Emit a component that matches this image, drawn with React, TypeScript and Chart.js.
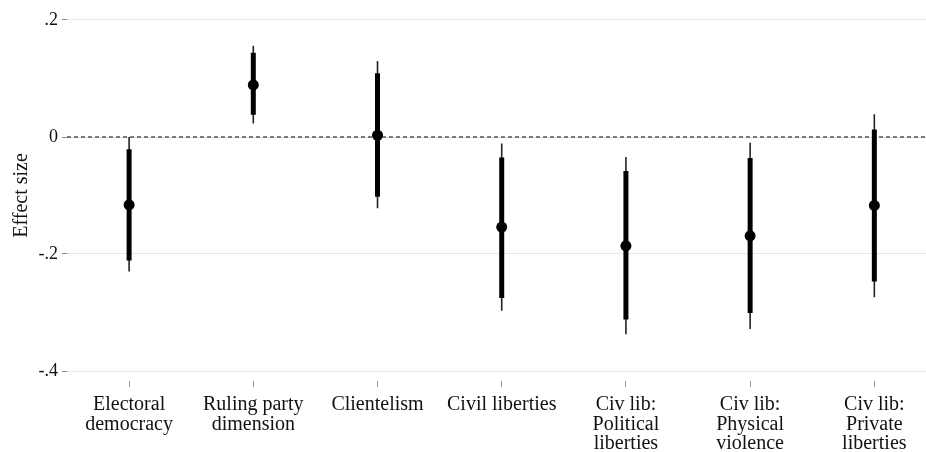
import React, { useEffect, useRef } from "react";
import { Chart, registerables } from "chart.js";

Chart.register(...registerables);

const categories: string[][] = [
  ["Electoral", "democracy"],
  ["Ruling party", "dimension"],
  ["Clientelism"],
  ["Civil liberties"],
  ["Civ lib:", "Political", "liberties"],
  ["Civ lib:", "Physical", "violence"],
  ["Civ lib:", "Private", "liberties"],
];
const pointEst = [-0.116, 0.089, 0.003, -0.154, -0.186, -0.169, -0.117];
const ci90Lo = [-0.211, 0.038, -0.102, -0.275, -0.312, -0.301, -0.247];
const ci90Hi = [-0.021, 0.144, 0.109, -0.035, -0.058, -0.036, 0.013];
const ci95Lo = [-0.23, 0.023, -0.122, -0.297, -0.337, -0.328, -0.274];
const ci95Hi = [0.0, 0.156, 0.13, -0.011, -0.034, -0.01, 0.039];
const yTickValues = [-0.4, -0.2, 0, 0.2];
const yTickLabels = ["-.4", "-.2", "0", ".2"];

const FONT = "'Liberation Serif', 'Times New Roman', serif";

function segments(lo: number[], hi: number[]) {
  const out: { x: number; y: number | null }[] = [];
  lo.forEach((l, i) => {
    out.push({ x: i + 1, y: l });
    out.push({ x: i + 1, y: hi[i] });
    out.push({ x: i + 1, y: null });
  });
  return out;
}

export default function App() {
  const ref = useRef<HTMLCanvasElement>(null);
  useEffect(() => {
    let chart: Chart | null = null;
    let cancelled = false;
    const build = () => {
      if (cancelled || !ref.current) return;
      const xMin = 0.5;
      const xMax = 7.42;
      chart = new Chart(ref.current, {
        type: "line",
        data: {
          datasets: [
            {
              data: [
                { x: xMin, y: 0 },
                { x: xMax, y: 0 },
              ],
              borderColor: "#000",
              borderWidth: 1.1,
              borderDash: [4, 3],
              pointRadius: 0,
              order: 4,
            },
            {
              data: segments(ci95Lo, ci95Hi),
              borderColor: "#222",
              borderWidth: 1.6,
              pointRadius: 0,
              spanGaps: false,
              order: 3,
            },
            {
              data: segments(ci90Lo, ci90Hi),
              borderColor: "#000",
              borderWidth: 5,
              pointRadius: 0,
              spanGaps: false,
              order: 2,
            },
            {
              data: pointEst.map((v, i) => ({ x: i + 1, y: v })),
              showLine: false,
              pointRadius: 5.5,
              pointBackgroundColor: "#000",
              pointBorderColor: "#000",
              pointBorderWidth: 0,
              order: 1,
            },
          ],
        },
        options: {
          animation: false,
          responsive: false,
          layout: { padding: { top: 10, right: 0, left: 0, bottom: 0 } },
          plugins: { legend: { display: false }, tooltip: { enabled: false } },
          scales: {
            x: {
              type: "linear",
              min: xMin,
              max: xMax,
              afterBuildTicks: (s: any) => {
                s.ticks = categories.map((_, i) => ({ value: i + 1 }));
              },
              afterFit: (s: any) => {
                s.height = 71;
                s.paddingLeft = 0;
                s.paddingRight = 0;
              },
              grid: {
                drawOnChartArea: false,
                drawTicks: true,
                tickLength: 6,
                tickColor: "#999",
              },
              border: { display: false },
              ticks: {
                autoSkip: false,
                maxRotation: 0,
                padding: 8,
                color: "#111",
                font: { family: FONT, size: 20, lineHeight: 0.98 },
                callback: (v: any) => {
                  const c = categories[Math.round(Number(v)) - 1];
                  return c ? c : "";
                },
              },
            },
            y: {
              type: "linear",
              min: -0.4 - 10 / 585,
              max: 0.2 + 10 / 585,
              afterBuildTicks: (s: any) => {
                s.ticks = yTickValues.map((v) => ({ value: v }));
              },
              afterFit: (s: any) => {
                s.width = 67;
                s.paddingTop = 0;
                s.paddingBottom = 0;
              },
              grid: {
                color: "#e6e6e6",
                lineWidth: 1,
                tickLength: 5,
                tickColor: "#888",
              },
              border: { display: false },
              ticks: {
                padding: 4,
                color: "#111",
                font: { family: FONT, size: 18 },
                callback: (v: any) => {
                  const idx = yTickValues.findIndex((t) => Math.abs(t - Number(v)) < 1e-9);
                  return idx >= 0 ? yTickLabels[idx] : "";
                },
              },
              title: {
                display: true,
                text: "Effect size",
                color: "#111",
                font: { family: FONT, size: 20 },
                padding: { top: 10, bottom: 2 },
              },
            },
          },
        },
      } as any);
    };
    const fonts = (document as any).fonts;
    if (fonts && fonts.load) {
      Promise.all([
        fonts.load('20px "Liberation Serif"'),
        fonts.load('18px "Liberation Serif"'),
      ])
        .catch(() => null)
        .then(build);
    } else {
      build();
    }
    return () => {
      cancelled = true;
      if (chart) chart.destroy();
    };
  }, []);
  return (
    <div
      style={{
        position: "absolute",
        left: 0,
        top: 0,
        width: 926,
        height: 452,
        overflow: "hidden",
        background: "#fff",
      }}
    >
      <canvas ref={ref} width={932} height={452} style={{ display: "block" }} />
    </div>
  );
}
